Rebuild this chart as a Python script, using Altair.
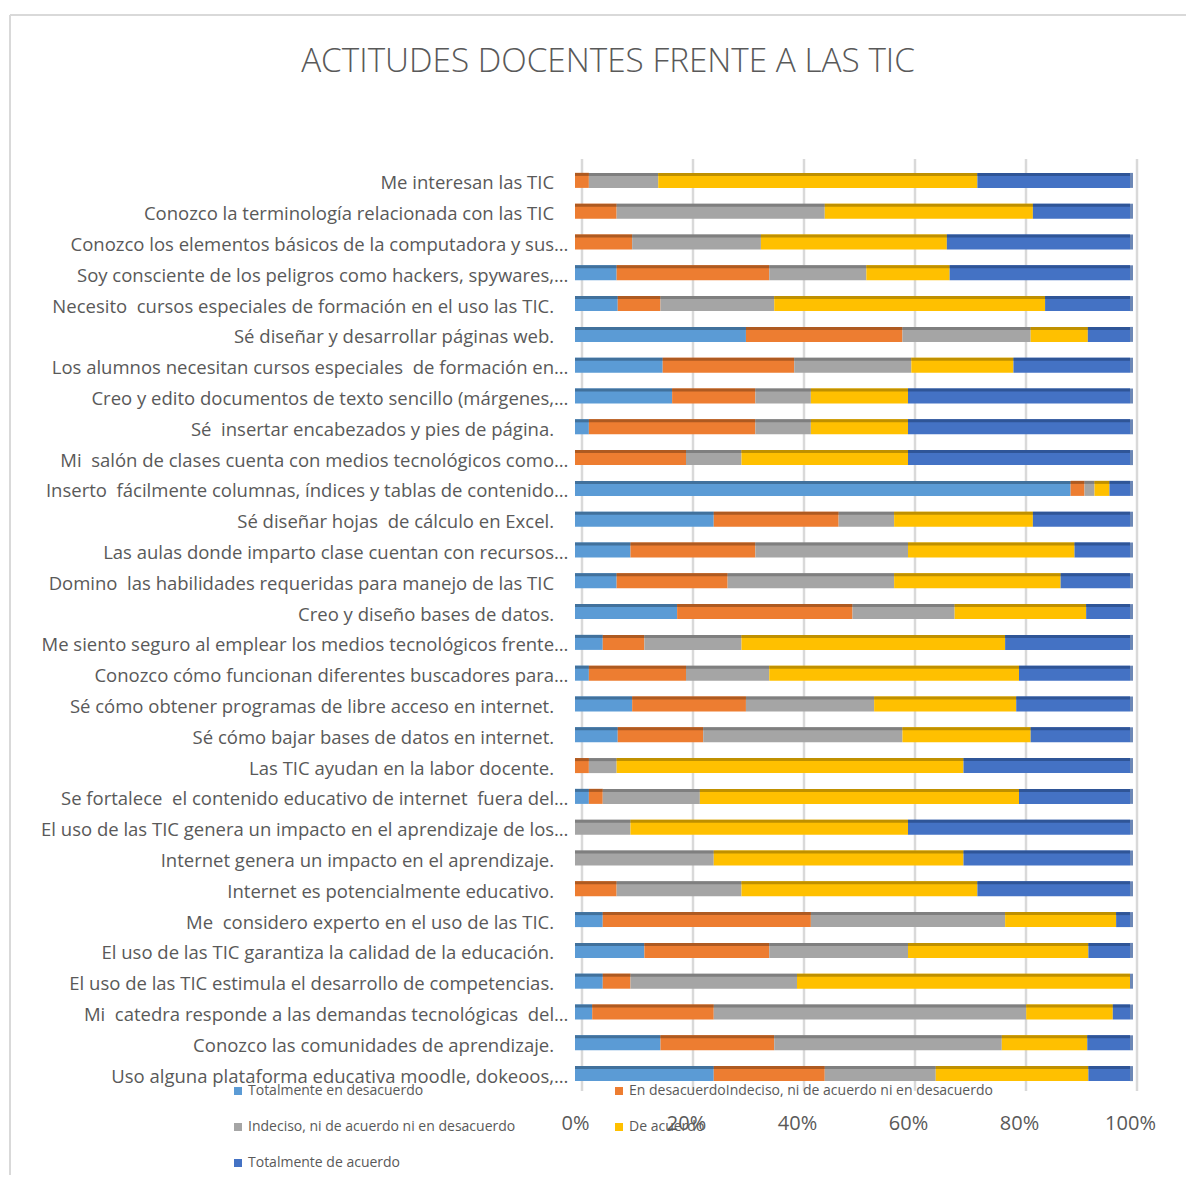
import altair as alt
import pandas as pd

categories = [
    "Me interesan las TIC",
    "Conozco la terminología relacionada con las TIC",
    "Conozco los elementos básicos de la computadora y sus…",
    "Soy consciente de los peligros como hackers, spywares,…",
    "Necesito  cursos especiales de formación en el uso las TIC.",
    "Sé diseñar y desarrollar páginas web.",
    "Los alumnos necesitan cursos especiales  de formación en…",
    "Creo y edito documentos de texto sencillo (márgenes,…",
    "Sé  insertar encabezados y pies de página.",
    "Mi  salón de clases cuenta con medios tecnológicos como…",
    "Inserto  fácilmente columnas, índices y tablas de contenido…",
    "Sé diseñar hojas  de cálculo en Excel.",
    "Las aulas donde imparto clase cuentan con recursos…",
    "Domino  las habilidades requeridas para manejo de las TIC",
    "Creo y diseño bases de datos.",
    "Me siento seguro al emplear los medios tecnológicos frente…",
    "Conozco cómo funcionan diferentes buscadores para…",
    "Sé cómo obtener programas de libre acceso en internet.",
    "Sé cómo bajar bases de datos en internet.",
    "Las TIC ayudan en la labor docente.",
    "Se fortalece  el contenido educativo de internet  fuera del…",
    "El uso de las TIC genera un impacto en el aprendizaje de los…",
    "Internet genera un impacto en el aprendizaje.",
    "Internet es potencialmente educativo.",
    "Me  considero experto en el uso de las TIC.",
    "El uso de las TIC garantiza la calidad de la educación.",
    "El uso de las TIC estimula el desarrollo de competencias.",
    "Mi  catedra responde a las demandas tecnológicas  del…",
    "Conozco las comunidades de aprendizaje.",
    "Uso alguna plataforma educativa moodle, dokeoos,…",
]
# keep double spaces visible in SVG
categories = [c.replace("  ", " \u00a0") for c in categories]

series = [
    "Totalmente en desacuerdo",
    "En desacuerdo",
    "Indeciso, ni de acuerdo ni en desacuerdo",
    "De acuerdo",
    "Totalmente de acuerdo",
]

title_text = ["ACTITUDES DOCENTES FRENTE A LAS TIC"]

totalmente_desacuerdo = [0, 0, 0, 7.5, 7.7, 30.8, 15.8, 17.5, 2.5, 0, 89.3, 25, 10, 7.5, 18.4,
                         5, 2.5, 10.3, 7.7, 0, 2.5, 0, 0, 0, 5, 12.5, 5, 3.1, 15.4, 25]
en_desacuerdo = [2.5, 7.5, 10.3, 27.5, 7.7, 28.2, 23.7, 15, 30, 20, 2.5, 22.5, 22.5, 20, 31.6,
                 7.5, 17.5, 20.5, 15.4, 2.5, 2.5, 0, 0, 7.5, 37.5, 22.5, 5, 21.9, 20.5, 20]
indeciso = [12.5, 37.5, 23.2, 17.5, 20.5, 23.1, 21.1, 10, 10, 10, 1.8, 10, 27.5, 30, 18.4,
            17.5, 15, 23.1, 35.9, 5, 17.5, 10, 25, 22.5, 35, 25, 30, 56.3, 41.0, 20]
de_acuerdo = [57.5, 37.5, 33.5, 15, 48.8, 10.3, 18.4, 17.5, 17.5, 30, 2.7, 25, 30, 30, 23.7,
              47.5, 45, 25.6, 23.1, 62.5, 57.5, 50, 45, 42.5, 20, 32.5, 60, 15.6, 15.4, 27.5]
totalmente_acuerdo = [27.5, 17.5, 33, 32.5, 15.3, 7.6, 21.0, 40, 40, 40, 3.7, 17.5, 10, 12.5, 7.9,
                      22.5, 20, 20.5, 17.9, 30, 20, 40, 30, 27.5, 2.5, 7.5, 0, 3.1, 7.7, 7.5]

colors = ["#5B9BD5", "#ED7D31", "#A5A5A5", "#FFC000", "#4472C4"]
dark_colors = ["#41719C", "#AE5A21", "#7F7F7F", "#BF9000", "#2F5597"]

grid_values = [0, 0.2, 0.4, 0.6, 0.8, 1.0]

all_values = [totalmente_desacuerdo, en_desacuerdo, indeciso, de_acuerdo, totalmente_acuerdo]
rows = []
for si, (s, vals) in enumerate(zip(series, all_values)):
    for ci, c in enumerate(categories):
        rows.append({"categoria": c, "serie": s, "orden": si, "valor": vals[ci],
                     "oscuro": dark_colors[si]})
df = pd.DataFrame(rows)
grid_df = pd.DataFrame({"g": grid_values})
title_df = pd.DataFrame({"t": title_text})
end_df = pd.DataFrame({"categoria": categories, "fin": [1.0] * len(categories)})

W, H = 555, 924
GREY = "#595959"
LABEL_FONT = "Open Sans"

# non-truncated labels keep trailing room (zero-width char stops trimming)
label_expr = ("slice(datum.label, -1) == '…' ? datum.label : "
              "datum.label + '\u00a0\u00a0\u00a0\u200b'")

y_enc = alt.Y("categoria:N", sort=categories, title=None,
              scale=alt.Scale(paddingInner=0.52, paddingOuter=0.26),
              axis=alt.Axis(labelFontSize=18.5, labelColor=GREY, labelFont=LABEL_FONT,
                            labelPadding=7, labelOffset=3, ticks=False, domain=False,
                            labelLimit=700, labelExpr=label_expr))

x_axis = alt.Axis(values=grid_values, format="%", labelFontSize=20, labelColor=GREY,
                  labelFont=LABEL_FONT, grid=False, domain=False, ticks=False,
                  labelFlush=False, labelPadding=24, title=None)

x_scale = alt.Scale(domain=[0, 1])

grid = alt.Chart(grid_df).mark_rule(color="#D9D9D9", strokeWidth=2.5, xOffset=7).encode(
    x=alt.X("g:Q", scale=x_scale, axis=x_axis),
    y=alt.value(-6),
    y2=alt.value(H + 2),
)

bars = alt.Chart(df).mark_bar(size=15).encode(
    y=y_enc,
    x=alt.X("valor:Q", stack="normalize", scale=x_scale, axis=x_axis),
    color=alt.Color("serie:N", sort=series,
                    scale=alt.Scale(domain=series, range=colors),
                    legend=alt.Legend(
                        title=None, orient="none", legendX=-344, legendY=919,
                        direction="horizontal",
                        columns=2, symbolType="square", symbolSize=64,
                        symbolStrokeWidth=0, labelFontSize=14, labelColor=GREY,
                        labelFont=LABEL_FONT, labelOffset=3, rowPadding=22,
                        columnPadding=96, labelLimit=600,
                        labelExpr="datum.label == 'En desacuerdo' ? 'En desacuerdoIndeciso, ni de acuerdo ni en desacuerdo' : datum.label",
                    )),
    order=alt.Order("orden:Q"),
)

tops = alt.Chart(df).mark_bar(size=3, yOffset=-6).encode(
    y=y_enc,
    x=alt.X("valor:Q", stack="normalize", scale=x_scale, axis=x_axis),
    color=alt.Color("oscuro:N", scale=None),
    order=alt.Order("orden:Q"),
)

caps = alt.Chart(end_df).mark_tick(orient="vertical", thickness=3, size=15,
                                   xOffset=1.5, color="#2F5597").encode(
    y=y_enc,
    x=alt.X("fin:Q", scale=x_scale, axis=x_axis),
)

frame_top = alt.Chart(title_df).mark_rule(color="#D9D9D9", strokeWidth=2).encode(
    x=alt.value(10 - 575), x2=alt.value(1194 - 575), y=alt.value(15 - 165),
)
frame_left = alt.Chart(title_df).mark_rule(color="#D9D9D9", strokeWidth=2).encode(
    x=alt.value(10 - 575), y=alt.value(15 - 165), y2=alt.value(1184 - 165),
)

title = alt.Chart(title_df).mark_text(
    font=LABEL_FONT, fontSize=33.3, fontWeight=300, color=GREY,
    align="center", baseline="alphabetic",
).encode(
    text="t:N",
    x=alt.value(608 - 575),
    y=alt.value(72 - 165),
)

chart = alt.layer(frame_top, frame_left, grid, bars, tops, caps, title).properties(
    width=W, height=H,
    autosize=alt.AutoSizeParams(type="none"),
    padding={"left": 567, "top": 157, "right": 56, "bottom": 86},
).configure_view(stroke=None)

chart.save("out.html", embed_options={"renderer": "svg", "actions": False})
